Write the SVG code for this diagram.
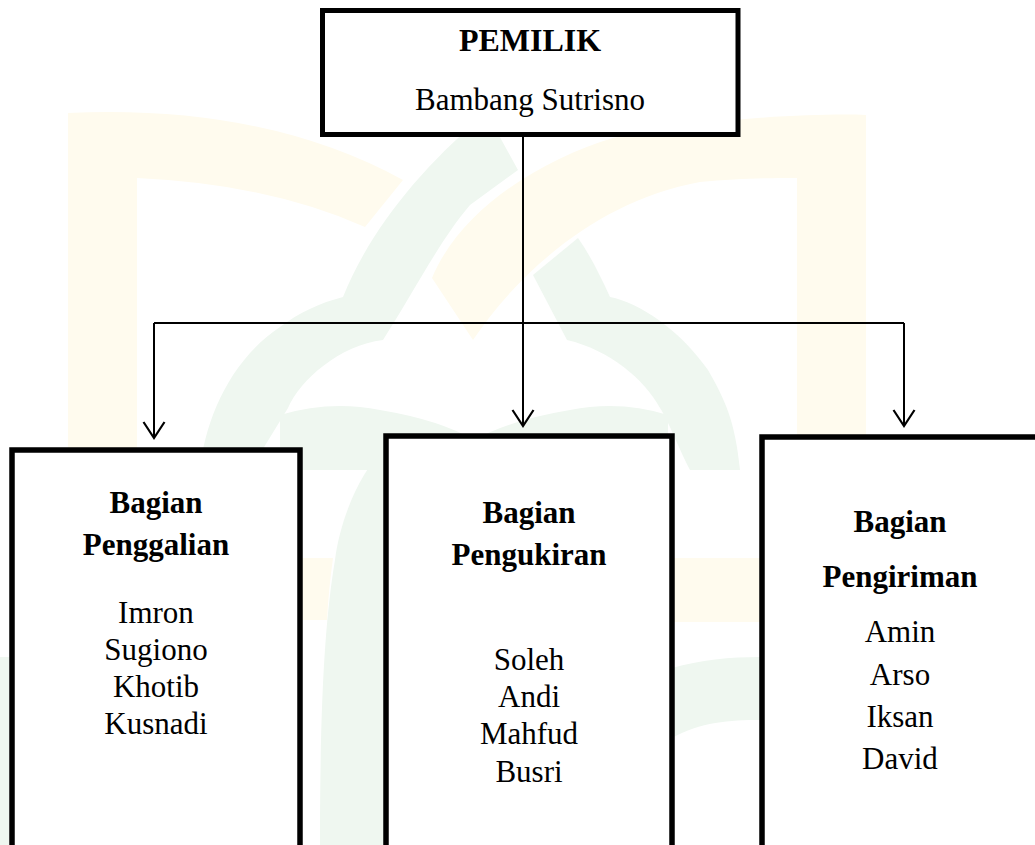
<svg xmlns="http://www.w3.org/2000/svg" width="1035" height="845" viewBox="0 0 1035 845">
<style>
.bg{fill:#ffffff}
.wy{fill:#fffbee}
.wg{fill:#eff7f0}
.box{fill:#ffffff;stroke:#000000;stroke-width:5.5}
.t{font-family:"Liberation Serif","Times New Roman",serif;font-size:31px;fill:#000000;text-anchor:middle}
.b{font-weight:bold}
.conn{fill:none;stroke:#000000;stroke-width:2}
</style>
<defs>
<marker id="arr" markerUnits="userSpaceOnUse" markerWidth="40" markerHeight="40" viewBox="-20 -20 40 40" refX="0" refY="0" orient="auto" overflow="visible">
<path d="M-16,-10.5 L0,0 L-16,10.5" fill="none" stroke="#000000" stroke-width="2.2"/>
</marker>
</defs>
<rect class="bg" x="0" y="0" width="1035" height="845"/>
<g id="watermark">
<path class="wy" d="M68,845 L68,113 Q264,104 403,180 L365,227 Q269,184 137,178 L137,845 Z"/>
<path class="wy" d="M866,845 L866,115 C820,113 700,118 613,138 C540,160 460,210 432,278 L473,340 C520,270 600,200 700,182 C740,178 780,178 797,178 L797,845 Z"/>
<path class="wg" d="M478,120 L496,130 L518,170 L470,205 C440,240 415,290 383,340 C340,345 300,380 288,408 L250,470 L200,470 C205,420 230,360 280,327 C300,312 320,303 343,297 C370,230 420,170 478,120 Z"/>
<path class="wg" d="M533,275 L578,238 C590,255 600,275 610,297 C640,303 680,330 708,370 C725,400 735,420 740,470 L690,470 C675,440 668,420 660,408 C645,380 610,350 567,340 Z"/>
<path class="wg" d="M280,415 Q330,400 380,410 Q440,420 474,440 Q510,420 570,410 Q620,400 668,415 L668,470 L280,470 Z"/>
<path class="wg" d="M386,448 C360,470 340,520 335,560 C325,620 320,700 320,845 L386,845 Z"/>
<path class="wy" d="M300,558 L333,558 C330,580 328,600 327,620 L300,620 Z"/>
<path class="wy" d="M672,558 L760,558 L760,622 L672,622 Z"/>
<path class="wg" d="M672,668 C700,660 730,657 760,657 L760,720 C730,720 700,722 672,738 Z"/>
<path class="wg" d="M0,657 L9,657 L9,845 L0,845 Z"/>
</g>
<g id="connectors">
<path class="conn" d="M523,137 L523,426" marker-end="url(#arr)"/>
<path class="conn" d="M154,323 L904,323"/>
<path class="conn" d="M154,323 L154,438" marker-end="url(#arr)"/>
<path class="conn" d="M904,323 L904,426" marker-end="url(#arr)"/>
</g>
<g id="pemilik">
<rect class="box" x="322.5" y="10.5" width="415.5" height="124" style="stroke-width:5"/>
<text class="t b" x="530" y="51" style="font-size:32px">PEMILIK</text>
<text class="t" x="530" y="110">Bambang Sutrisno</text>
</g>
<g id="penggalian">
<rect class="box" x="12" y="450" width="288" height="500"/>
<text class="t b" x="156" y="513">Bagian</text>
<text class="t b" x="156" y="555">Penggalian</text>
<text class="t" x="156" y="623">Imron</text>
<text class="t" x="156" y="660">Sugiono</text>
<text class="t" x="156" y="697">Khotib</text>
<text class="t" x="156" y="734">Kusnadi</text>
</g>
<g id="pengukiran">
<rect class="box" x="386" y="436" width="286" height="500"/>
<text class="t b" x="529" y="523">Bagian</text>
<text class="t b" x="529" y="565">Pengukiran</text>
<text class="t" x="529" y="670">Soleh</text>
<text class="t" x="529" y="707">Andi</text>
<text class="t" x="529" y="744">Mahfud</text>
<text class="t" x="529" y="782">Busri</text>
</g>
<g id="pengiriman">
<rect class="box" x="762" y="437" width="400" height="500"/>
<text class="t b" x="900" y="532">Bagian</text>
<text class="t b" x="900" y="587">Pengiriman</text>
<text class="t" x="900" y="642">Amin</text>
<text class="t" x="900" y="685">Arso</text>
<text class="t" x="900" y="727">Iksan</text>
<text class="t" x="900" y="769">David</text>
</g>
</svg>
